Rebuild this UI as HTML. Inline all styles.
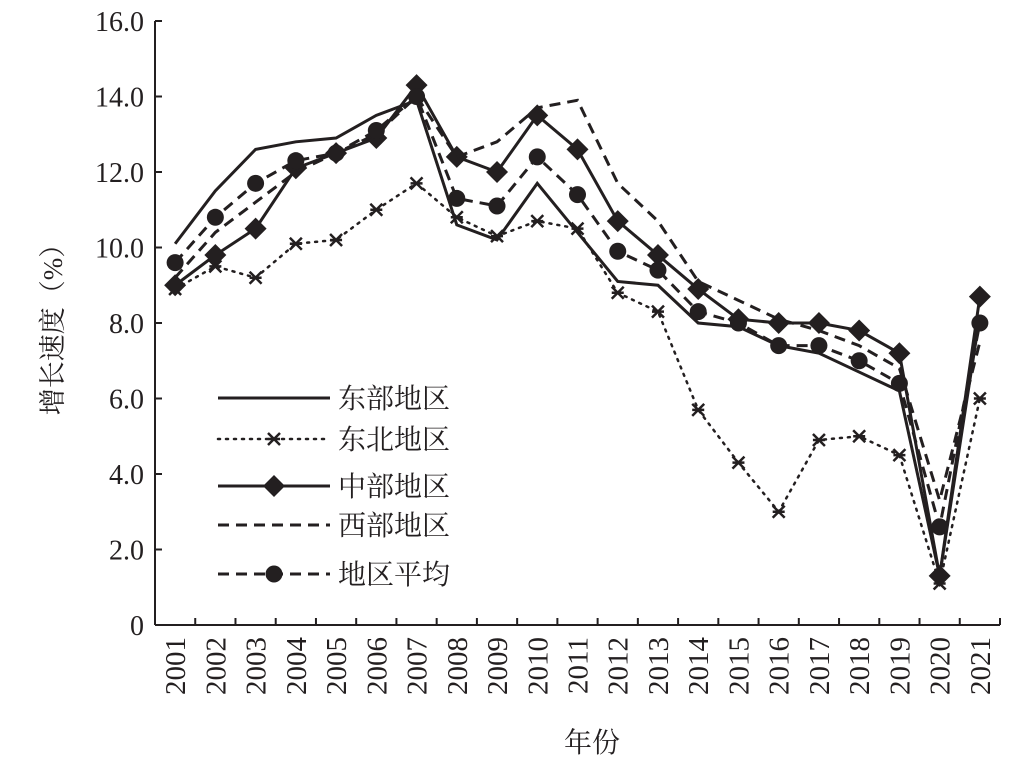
<!DOCTYPE html>
<html><head><meta charset="utf-8"><style>
body{margin:0;background:#fff}
svg text{font-family:"Liberation Serif","Noto Serif CJK SC",serif;fill:#231f20}
</style></head><body>
<svg id="c" width="1017" height="765" viewBox="0 0 1017 765" xmlns="http://www.w3.org/2000/svg"></svg>
<script>
const years=["2001","2002","2003","2004","2005","2006","2007","2008","2009","2010","2011","2012","2013","2014","2015","2016","2017","2018","2019","2020","2021"];
const east=[10.1,11.5,12.6,12.8,12.9,13.5,13.9,10.6,10.2,11.7,10.4,9.1,9.0,8.0,7.9,7.4,7.2,6.7,6.2,1.3,8.2];
const northeast=[8.9,9.5,9.2,10.1,10.2,11.0,11.7,10.8,10.3,10.7,10.5,8.8,8.3,5.7,4.3,3.0,4.9,5.0,4.5,1.1,6.0];
const central=[9.0,9.8,10.5,12.1,12.5,12.9,14.3,12.4,12.0,13.5,12.6,10.7,9.8,8.9,8.1,8.0,8.0,7.8,7.2,1.3,8.7];
const west=[9.2,10.4,11.2,12.0,12.5,13.0,14.0,12.4,12.8,13.7,13.9,11.7,10.7,9.1,8.6,8.1,7.8,7.4,6.8,3.3,7.5];
const average=[9.6,10.8,11.7,12.3,12.5,13.1,14.0,11.3,11.1,12.4,11.4,9.9,9.4,8.3,8.0,7.4,7.4,7.0,6.4,2.6,8.0];
const yTicks=[0,2,4,6,8,10,12,14,16];
const yTickLabels=["0","2.0","4.0","6.0","8.0","10.0","12.0","14.0","16.0"];
const svg=document.getElementById('c');
const NS="http://www.w3.org/2000/svg";
const X0=155,X1=1000,Y0=625,Y1=21;
const step=(X1-X0)/years.length;
const xs=i=>X0+step*(i+0.5);
const ys=v=>Y0-(v/16)*(Y0-Y1);
function mk(t,a,p){const e=document.createElementNS(NS,t);for(const k in a)e.setAttribute(k,a[k]);(p||svg).appendChild(e);return e;}
let e=mk('line',{x1:X0,y1:Y1,x2:X0,y2:Y0,stroke:'#231f20','stroke-width':2});


e=mk('line',{x1:X0,y1:Y0,x2:X1,y2:Y0,stroke:'#231f20','stroke-width':2});


yTicks.forEach((v,i)=>{
  mk('line',{x1:X0,y1:ys(v),x2:X0+7,y2:ys(v),stroke:'#231f20','stroke-width':2});
  const t=mk('text',{x:144,y:ys(v)+10,'text-anchor':'end','font-size':28});
  t.textContent=yTickLabels[i];
  
  
});
for(let i=0;i<=years.length;i++){mk('line',{x1:X0+step*i,y1:Y0,x2:X0+step*i,y2:Y0-7,stroke:'#231f20','stroke-width':2});}
years.forEach((y,i)=>{
  const t=mk('text',{x:0,y:0,'text-anchor':'end','font-size':29,transform:`translate(${xs(i)+10},637) rotate(-90)`});
  t.textContent=y;
  
  
});
let t=mk('text',{x:0,y:0,'text-anchor':'middle','font-size':27,transform:'translate(62,323) rotate(-90)'});
t.textContent='增长速度（%）';


t=mk('text',{x:592,y:752,'text-anchor':'middle','font-size':28});
t.textContent='年份';


function marker(type,x,y,g){
  if(type==='diamond')mk('polygon',{points:`${x},${y-11} ${x+11},${y} ${x},${y+11} ${x-11},${y}`,fill:'#231f20'},g);
  else if(type==='circle')mk('circle',{cx:x,cy:y,r:8.5,fill:'#231f20'},g);
  else if(type==='star'){mk('path',{d:`M${x-6},${y-6}L${x+6},${y+6}M${x+6},${y-6}L${x-6},${y+6}M${x-6},${y}L${x+6},${y}`,stroke:'#231f20','stroke-width':2.5},g);}
}
const series=[
 {name:'东部地区',data:east,dash:'',m:null,key:'east'},
 {name:'东北地区',data:northeast,dash:'2,6',m:'star',key:'northeast'},
 {name:'中部地区',data:central,dash:'',m:'diamond',key:'central'},
 {name:'西部地区',data:west,dash:'11,7',m:null,key:'west'},
 {name:'地区平均',data:average,dash:'11,7',m:'circle',key:'average'}
];
const legY=[398,439,486,525,574];
series.forEach((s,k)=>{
  const g=mk('g',{});
  
  
  const a={points:s.data.map((v,i)=>xs(i)+','+ys(v)).join(' '),fill:'none',stroke:'#231f20','stroke-width':s.dash==='2,6'?2.5:3};
  if(s.dash)a['stroke-dasharray']=s.dash;
  if(s.dash==='2,6')a['stroke-linecap']='round';
  mk('polyline',a,g);
  if(s.m)s.data.forEach((v,i)=>marker(s.m,xs(i),ys(v),g));
  const lg=mk('g',{});
  
  
  const la={x1:218,y1:legY[k],x2:330,y2:legY[k],stroke:'#231f20','stroke-width':s.dash==='2,6'?2.5:3};
  if(s.dash)la['stroke-dasharray']=s.dash;
  if(s.dash==='2,6')la['stroke-linecap']='round';
  mk('line',la,lg);
  if(s.m)marker(s.m,274,legY[k],lg);
  const tt=mk('text',{x:338,y:legY[k]+10,'font-size':28},lg);
  tt.textContent=s.name;
});
</script>
</body></html>
